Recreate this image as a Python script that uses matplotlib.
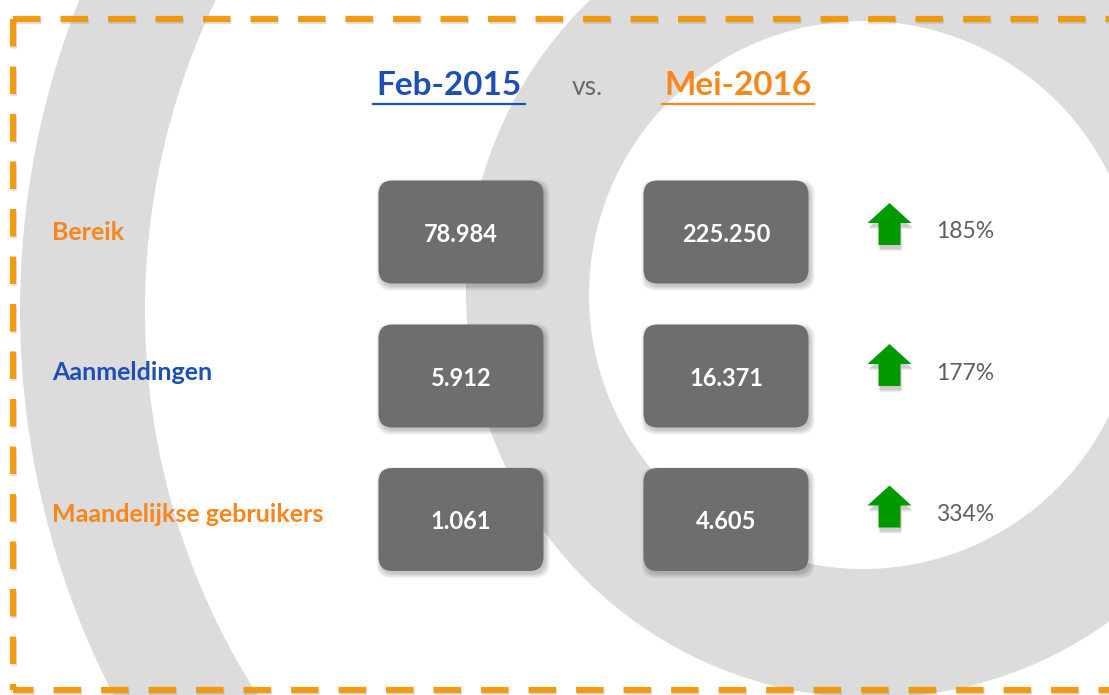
import matplotlib
matplotlib.use("Agg")
import matplotlib.pyplot as plt
from matplotlib.patches import Circle, FancyBboxPatch, Polygon
from matplotlib.lines import Line2D

plt.rcParams['font.family'] = ['Lato', 'DejaVu Sans']
plt.rcParams['lines.scale_dashes'] = False

# data
periods = ["Feb-2015", "Mei-2016"]
metrics = ["Bereik", "Aanmeldingen", "Maandelijkse gebruikers"]
feb_values = [78984, 5912, 1061]
mei_values = [225250, 16371, 4605]
growth_pct = [185, 177, 334]

ORANGE = '#F7861C'
BLUE = '#1E4FB4'
metric_colors = [ORANGE, BLUE, ORANGE]
period_colors = [BLUE, ORANGE]
RING = '#dcdcdc'
BOX = '#6e6e6e'
GREEN = '#009900'

# layout (pixels)
W, H = 1109, 695
box_y = [232, 376, 519.5]
label_y = [232, 373, 514.5]
box_cx = [461, 726]
box_w, box_h = 165, 103
arrow_cx = 889.5
pct_x = 936
label_x = 52
title_cx = [449, 738]


def fmt(v):
    return '{:,}'.format(v).replace(',', '.')


fig = plt.figure(figsize=(W / 100, H / 100), dpi=100)
ax = fig.add_axes([0, 0, 1, 1])
ax.set_xlim(0, W)
ax.set_ylim(H, 0)
ax.axis('off')

# background logo rings: gray disc then white disc on top
ax.add_patch(Circle((860, 310), 840, fc=RING, ec='none', zorder=0))
ax.add_patch(Circle((860, 310), 715, fc='white', ec='none', zorder=0))
ax.add_patch(Circle((872, 292), 406, fc=RING, ec='none', zorder=0))
ax.add_patch(Circle((863, 295), 274, fc='white', ec='none', zorder=0))

# dashed frame
left, top, right, bottom = 12.5, 18.5, 1112, 690
sides = [
    ([left, right], [top, top], 0),
    ([left, left], [top, bottom], 0),
    ([left, right], [bottom, bottom], 5),
    ([right, right], [top, bottom], 0),
]
for xs, ys, off in sides:
    ax.add_line(Line2D([x + 1.5 for x in xs], [y + 2 for y in ys], lw=4.5,
                       color='#888888', alpha=0.25,
                       linestyle=(off, (19.8, 14.4)), dash_capstyle='butt',
                       zorder=1))
    ax.add_line(Line2D(xs, ys, lw=4.5, color='#F39500', alpha=0.92,
                       linestyle=(off, (19.8, 14.4)), dash_capstyle='butt',
                       zorder=2))

# titles
for name, cx, col in zip(periods, title_cx, period_colors):
    ax.text(cx, 95, name, ha='center', va='baseline', fontsize=24,
            fontweight='bold', color=col, zorder=5)
    ax.plot([cx - 76, cx + 76], [103.5, 103.5], color=col, lw=1.6, zorder=5)
ax.text(587, 95, "vs.", ha='center', va='baseline', fontsize=19,
        color='#6a6a6a', zorder=5)

# rows
arrow_shape = [(0, -21), (22, -1), (11, -1), (11, 21), (-11, 21), (-11, -1), (-22, -1)]
for i, name in enumerate(metrics):
    ax.text(label_x, label_y[i], name, ha='left', va='center', fontsize=18,
            fontweight='bold', color=metric_colors[i], zorder=5)

    for cx, val in zip(box_cx, [feb_values[i], mei_values[i]]):
        x0, y0 = cx - box_w / 2, box_y[i] - box_h / 2
        for k in range(4):
            ax.add_patch(FancyBboxPatch((x0 + 2, y0 + 3), box_w, box_h,
                                        boxstyle="round,pad=%g,rounding_size=14" % (k * 1.3),
                                        fc='black', ec='none', alpha=0.06, zorder=3))
        ax.add_patch(FancyBboxPatch((x0, y0), box_w, box_h,
                                    boxstyle="round,pad=0,rounding_size=14",
                                    fc=BOX, ec='none', zorder=4))
        ax.text(cx, box_y[i] + 2, fmt(val), ha='center', va='center', fontsize=17,
                fontweight='bold', color='white', zorder=5)

    ay = label_y[i] - 8
    for k in range(3):
        ax.add_patch(Polygon([(arrow_cx + dx + 1, ay + dy + 4 + k) for dx, dy in arrow_shape],
                             closed=True, fc='black', ec='none', alpha=0.07, zorder=3))
    ax.add_patch(Polygon([(arrow_cx + dx, ay + dy) for dx, dy in arrow_shape],
                         closed=True, fc=GREEN, ec='none', zorder=4))
    ax.text(pct_x, label_y[i], "%d%%" % growth_pct[i], ha='left', va='center',
            fontsize=16.5, color='#5f5f5f', zorder=5)

fig.savefig('out.png', dpi=100)
